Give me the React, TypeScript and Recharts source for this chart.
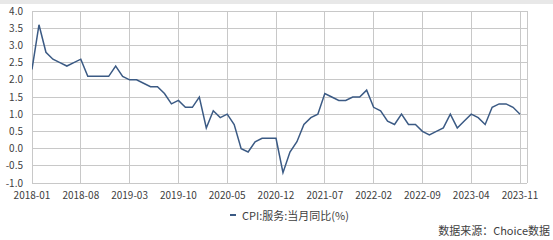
import React from "react";
import { LineChart, Line, XAxis, YAxis, CartesianGrid } from "recharts";

const months: string[] = [];
for (let y = 2018; y <= 2023; y++) {
  for (let m = 1; m <= 12; m++) {
    if (y === 2023 && m > 11) break;
    months.push(`${y}-${String(m).padStart(2, "0")}`);
  }
}

const values: number[] = [
  // 2018
  2.3, 3.6, 2.8, 2.6, 2.5, 2.4, 2.5, 2.6, 2.1, 2.1, 2.1, 2.1,
  // 2019
  2.4, 2.1, 2.0, 2.0, 1.9, 1.8, 1.8, 1.6, 1.3, 1.4, 1.2, 1.2,
  // 2020
  1.5, 0.6, 1.1, 0.9, 1.0, 0.7, 0.0, -0.1, 0.2, 0.3, 0.3, 0.3,
  // 2021
  -0.7, -0.1, 0.2, 0.7, 0.9, 1.0, 1.6, 1.5, 1.4, 1.4, 1.5, 1.5,
  // 2022
  1.7, 1.2, 1.1, 0.8, 0.7, 1.0, 0.7, 0.7, 0.5, 0.4, 0.5, 0.6,
  // 2023
  1.0, 0.6, 0.8, 1.0, 0.9, 0.7, 1.2, 1.3, 1.3, 1.2, 1.0,
];

const xTicks = [0, 7, 14, 21, 28, 35, 42, 49, 56, 63, 70];
const yTicks = [-1.0, -0.5, 0.0, 0.5, 1.0, 1.5, 2.0, 2.5, 3.0, 3.5, 4.0];
const seriesName = "CPI:服务:当月同比(%)";
const sourceText = "数据来源：Choice数据";

const data = values.map((v, i) => ({ idx: i, month: months[i], value: v }));

const FONT = '"Noto Sans CJK SC", "Noto Sans", sans-serif';
const LINE_COLOR = "#3b5a84";
const TEXT_COLOR = "#404040";
const GRID_COLOR = "#c8c8c8";

export default function App() {
  return (
    <div style={{ position: "absolute", left: 0, top: 0, width: 553, height: 240, background: "#fff", fontFamily: FONT }}>
      <div style={{ position: "absolute", left: 0, top: 0, width: 553, height: 4, background: "#e8e8e8" }} />
      <div style={{ position: "absolute", left: 0, top: 0 }}>
        <LineChart width={553} height={240} data={data} margin={{ top: 11, right: 26, left: 0, bottom: 37 }}>
          <CartesianGrid stroke={GRID_COLOR} strokeWidth={1} shapeRendering="crispEdges" />
          <XAxis
            dataKey="idx"
            type="number"
            domain={[0, 71]}
            ticks={xTicks}
            interval={0}
            tickFormatter={(v: number) => months[v] ?? ""}
            tick={{ fontSize: 10, fill: TEXT_COLOR, fontFamily: FONT }}
            tickLine={false}
            axisLine={false}
            tickSize={0}
            tickMargin={9}
            height={20}
            allowDataOverflow
          />
          <YAxis
            type="number"
            domain={[-1, 4]}
            ticks={yTicks}
            interval={0}
            tickFormatter={(v: number) => v.toFixed(1)}
            tick={{ fontSize: 10, fill: TEXT_COLOR, fontFamily: FONT }}
            tickLine={false}
            axisLine={false}
            tickSize={0}
            tickMargin={9}
            width={32}
            allowDataOverflow
          />
          <Line
            type="linear"
            dataKey="value"
            name={seriesName}
            stroke={LINE_COLOR}
            strokeWidth={1.5}
            dot={false}
            isAnimationActive={false}
          />
        </LineChart>
      </div>
      <div style={{ position: "absolute", left: 230, top: 207, fontSize: 11, color: TEXT_COLOR, whiteSpace: "nowrap", display: "flex", alignItems: "center", lineHeight: "16px" }}>
        <span style={{ display: "inline-block", width: 6, height: 1.5, background: LINE_COLOR, marginRight: 6 }} />
        <span>{seriesName}</span>
      </div>
      <div style={{ position: "absolute", right: 3, top: 222, fontSize: 11, color: TEXT_COLOR, whiteSpace: "nowrap", lineHeight: "16px" }}>
        {sourceText}
      </div>
    </div>
  );
}
